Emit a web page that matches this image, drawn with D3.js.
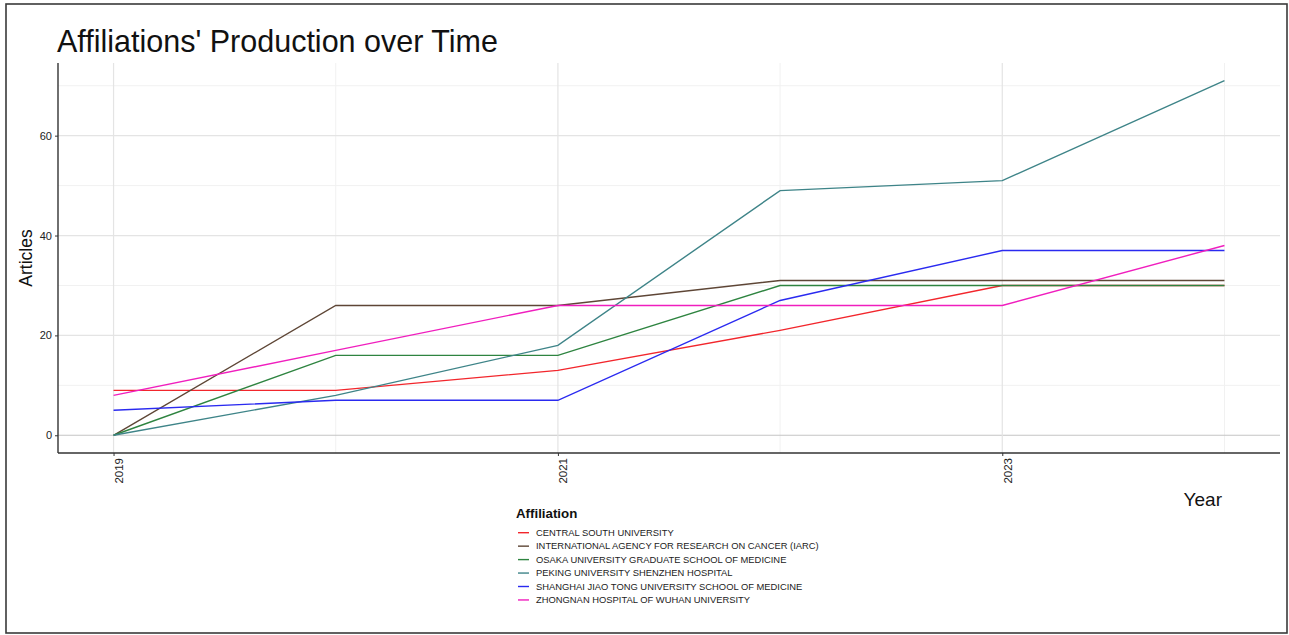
<!DOCTYPE html>
<html><head><meta charset="utf-8">
<script src="https://cdn.jsdelivr.net/npm/d3@7"></script>
<style>body{margin:0;background:#fff;}svg{display:block;font-family:"Liberation Sans",Arial,sans-serif;}</style>
</head><body>
<svg id="c" width="1289" height="635"></svg>
<script>
const years = [2019, 2020, 2021, 2022, 2023, 2024];
const affiliations = [
  "CENTRAL SOUTH UNIVERSITY",
  "INTERNATIONAL AGENCY FOR RESEARCH ON CANCER (IARC)",
  "OSAKA UNIVERSITY GRADUATE SCHOOL OF MEDICINE",
  "PEKING UNIVERSITY SHENZHEN HOSPITAL",
  "SHANGHAI JIAO TONG UNIVERSITY SCHOOL OF MEDICINE",
  "ZHONGNAN HOSPITAL OF WUHAN UNIVERSITY"
];
const centralSouth = [9, 9, 13, 21, 30, 30];
const iarc = [0, 26, 26, 31, 31, 31];
const osaka = [0, 16, 16, 30, 30, 30];
const peking = [0, 8, 18, 49, 51, 71];
const shanghai = [5, 7, 7, 27, 37, 37];
const zhongnan = [8, 17, 26, 26, 26, 38];
const seriesValues = [centralSouth, iarc, osaka, peking, shanghai, zhongnan];
const colors = ["#F2262C", "#5E4636", "#2E8440", "#3E8488", "#2A2AF0", "#F01EBE"];
const xTicks = [2019, 2021, 2023];
const xMinor = [2020, 2022, 2024];
const yTicks = [0, 20, 40, 60];
const yMinor = [10, 30, 50, 70];

const svg = d3.select("#c");
// outer frame
svg.append("rect").attr("x", 6).attr("y", 4).attr("width", 1281).attr("height", 629)
  .attr("fill", "none").attr("stroke", "#3a3a3a").attr("stroke-width", 1.6);

const L = 58, R = 1280, T = 63, B = 453;
const yMax = d3.max(seriesValues.flat());
const yPad = yMax * 0.05;
const x = d3.scaleLinear().domain([2019 - 0.25, 2024 + 0.25]).range([L, R]);
const y = d3.scaleLinear().domain([0 - yPad, yMax + yPad]).range([B, T]);

const g = svg.append("g");
// grid
g.selectAll(".ymin").data(yMinor).join("line").attr("x1", L).attr("x2", R)
  .attr("y1", d => y(d)).attr("y2", d => y(d)).attr("stroke", "#f1f1f1").attr("stroke-width", 1);
g.selectAll(".xmin").data(xMinor).join("line").attr("y1", T).attr("y2", B)
  .attr("x1", d => x(d)).attr("x2", d => x(d)).attr("stroke", "#f1f1f1").attr("stroke-width", 1);
g.selectAll(".ymaj").data(yTicks).join("line").attr("x1", L).attr("x2", R)
  .attr("y1", d => y(d)).attr("y2", d => y(d)).attr("stroke", d => d === 0 ? "#c4c4c4" : "#e4e4e4").attr("stroke-width", 1.2);
g.selectAll(".xmaj").data(xTicks).join("line").attr("y1", T).attr("y2", B)
  .attr("x1", d => x(d)).attr("x2", d => x(d)).attr("stroke", "#e4e4e4").attr("stroke-width", 1.2);

// lines
const line = d3.line().x((d, i) => x(years[i])).y(d => y(d));
seriesValues.forEach((vals, k) => {
  g.append("path").datum(vals).attr("d", line).attr("fill", "none")
    .attr("stroke", colors[k]).attr("stroke-width", 1.4);
});

// axes
const yAxis = d3.axisLeft(y).tickValues(yTicks).tickSize(3).tickPadding(3);
const ya = svg.append("g").attr("transform", `translate(${L},0)`).call(yAxis);
ya.select(".domain").attr("d", `M0,${T}V${B}`).attr("stroke", "#333").attr("stroke-width", 1.4);
ya.selectAll(".tick line").attr("stroke", "#333");
ya.selectAll("text").attr("font-size", 11).attr("fill", "#222").attr("font-family", "Liberation Sans, Arial, sans-serif");

const xAxis = d3.axisBottom(x).tickValues(xTicks).tickFormat(d3.format("d")).tickSize(3);
const xa = svg.append("g").attr("transform", `translate(0,${B})`).call(xAxis);
xa.select(".domain").attr("d", `M${L},0H${R}`).attr("stroke", "#333").attr("stroke-width", 1.4);
xa.selectAll(".tick line").attr("stroke", "#333");
xa.selectAll("text").attr("font-size", 11.5).attr("fill", "#222").attr("font-family", "Liberation Sans, Arial, sans-serif")
  .attr("text-anchor", "end").attr("dy", null).attr("x", 0).attr("y", 0)
  .attr("transform", "translate(0,5) rotate(-90) translate(0,9)");

// titles
svg.append("text").attr("x", 57).attr("y", 52).attr("font-size", 30.5).attr("fill", "#111")
  .text("Affiliations' Production over Time");
svg.append("text").attr("transform", `translate(32,${(T + B) / 2}) rotate(-90)`).attr("text-anchor", "middle")
  .attr("font-size", 17.5).attr("fill", "#111").text("Articles");
svg.append("text").attr("x", 1222).attr("y", 506).attr("text-anchor", "end")
  .attr("font-size", 19).attr("fill", "#111").text("Year");

// legend
const lg = svg.append("g");
lg.append("text").attr("x", 516).attr("y", 518).attr("font-size", 13.3).attr("font-weight", "bold")
  .attr("fill", "#111").text("Affiliation");
affiliations.forEach((name, i) => {
  const cy = 532.7 + i * 13.45;
  lg.append("line").attr("x1", 518).attr("x2", 529).attr("y1", cy).attr("y2", cy)
    .attr("stroke", colors[i]).attr("stroke-width", 1.4);
  lg.append("text").attr("x", 536).attr("y", cy).attr("dy", "0.35em").attr("font-size", 9.4)
    .attr("fill", "#222").text(name);
});
</script>
</body></html>
